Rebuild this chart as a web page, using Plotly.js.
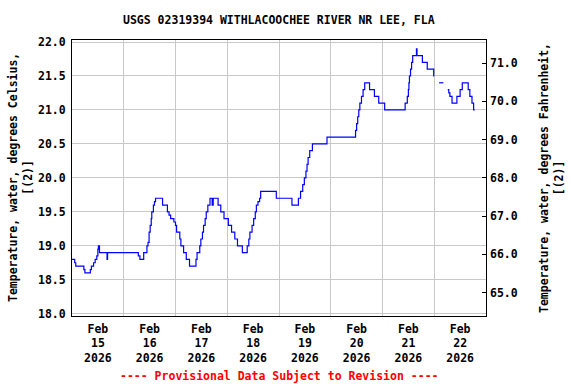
<!DOCTYPE html>
<html><head><meta charset="utf-8">
<script src="https://cdn.plot.ly/plotly-3.0.1.min.js"></script>
<style>html,body{margin:0;padding:0;background:#fff}</style>
</head><body><div id="chart" style="width:576px;height:384px"></div>
<script>
const times = [
'2026-02-15 00:00','2026-02-15 01:15','2026-02-15 01:45','2026-02-15 05:30','2026-02-15 06:00','2026-02-15 08:30','2026-02-15 09:00','2026-02-15 10:00','2026-02-15 10:45','2026-02-15 11:30','2026-02-15 12:00','2026-02-15 12:15','2026-02-15 12:45','2026-02-15 16:15','2026-02-15 16:30',
'2026-02-16 06:45','2026-02-16 07:30','2026-02-16 09:15','2026-02-16 10:45','2026-02-16 11:15','2026-02-16 11:45','2026-02-16 12:15','2026-02-16 12:45','2026-02-16 13:00','2026-02-16 13:45','2026-02-16 14:15','2026-02-16 14:45','2026-02-16 18:00','2026-02-16 20:15','2026-02-16 21:00','2026-02-16 21:45','2026-02-16 23:15',
'2026-02-17 00:00','2026-02-17 00:30','2026-02-17 02:00','2026-02-17 02:30','2026-02-17 03:45','2026-02-17 05:00','2026-02-17 06:30','2026-02-17 09:30','2026-02-17 10:00','2026-02-17 11:15','2026-02-17 11:45','2026-02-17 12:30','2026-02-17 13:00','2026-02-17 13:45','2026-02-17 14:15','2026-02-17 15:00','2026-02-17 16:00','2026-02-17 17:00','2026-02-17 17:30','2026-02-17 19:45','2026-02-17 21:00','2026-02-17 22:30',
'2026-02-18 00:30','2026-02-18 02:00','2026-02-18 03:30','2026-02-18 04:45','2026-02-18 07:00','2026-02-18 09:15','2026-02-18 10:00','2026-02-18 10:30','2026-02-18 11:30','2026-02-18 12:15','2026-02-18 13:00','2026-02-18 13:30','2026-02-18 14:15','2026-02-18 15:00','2026-02-18 15:30','2026-02-18 22:45',
'2026-02-19 06:00','2026-02-19 09:00','2026-02-19 10:00','2026-02-19 11:00','2026-02-19 11:45','2026-02-19 12:30','2026-02-19 13:00','2026-02-19 13:30','2026-02-19 14:15','2026-02-19 15:30','2026-02-19 22:15',
'2026-02-20 11:30','2026-02-20 12:00','2026-02-20 12:30','2026-02-20 13:00','2026-02-20 13:30','2026-02-20 14:15','2026-02-20 15:00','2026-02-20 15:45','2026-02-20 18:00','2026-02-20 20:15','2026-02-20 22:15',
'2026-02-21 01:00','2026-02-21 10:30','2026-02-21 11:30','2026-02-21 12:00','2026-02-21 12:15','2026-02-21 12:30','2026-02-21 13:00','2026-02-21 13:30','2026-02-21 14:00','2026-02-21 15:45','2026-02-21 16:00','2026-02-21 18:30','2026-02-21 20:45','2026-02-21 23:45',
'2026-02-22 00:00','2026-02-22 01:00','2026-02-22 02:15','2026-02-22 04:15','2026-02-22 05:00','2026-02-22 06:15','2026-02-22 06:45','2026-02-22 07:15','2026-02-22 08:15','2026-02-22 10:30','2026-02-22 12:00','2026-02-22 13:00','2026-02-22 15:45','2026-02-22 16:30','2026-02-22 17:30','2026-02-22 18:15','2026-02-22 18:45'
];
const tempC = [
18.8,18.75,18.7,18.65,18.6,18.65,18.7,18.75,18.8,18.85,18.95,19.0,18.9,18.8,18.9,
18.85,18.8,18.9,19.0,19.05,19.2,19.3,19.4,19.5,19.6,19.65,19.7,19.6,19.5,19.45,19.4,19.35,
19.3,19.2,19.1,19.0,18.9,18.8,18.7,18.8,18.9,19.0,19.1,19.2,19.3,19.4,19.5,19.6,19.7,19.6,19.7,19.6,19.5,19.4,
19.3,19.2,19.1,19.0,18.9,19.0,19.1,19.2,19.3,19.4,19.5,19.6,19.65,19.7,19.8,19.7,
19.6,19.7,19.8,19.9,20.0,20.1,20.2,20.3,20.4,20.5,20.6,
20.7,20.8,20.9,21.0,21.1,21.2,21.3,21.4,21.3,21.2,21.1,
21.0,21.1,21.2,21.3,21.4,21.5,21.6,21.7,21.8,21.9,21.8,21.7,21.6,21.5,
21.5,null,21.4,21.4,null,21.3,21.25,21.2,21.1,21.2,21.3,21.4,21.3,21.2,21.1,21.0,21.0
];
const celsiusRange = [17.966, 22.03];
const fahrenheitRange = [64.39, 71.605];
const fahrenheitTicks = [65, 66, 67, 68, 69, 70, 71];
const dayGrid = ['2026-02-15','2026-02-16','2026-02-17','2026-02-18','2026-02-19','2026-02-20','2026-02-21','2026-02-22','2026-02-23'];
const dayTickTimes = ['2026-02-15 12:00','2026-02-16 12:00','2026-02-17 12:00','2026-02-18 12:00','2026-02-19 12:00','2026-02-20 12:00','2026-02-21 12:00','2026-02-22 12:00'];
const dayTickLabels = ['Feb<br>15<br>2026','Feb<br>16<br>2026','Feb<br>17<br>2026','Feb<br>18<br>2026','Feb<br>19<br>2026','Feb<br>20<br>2026','Feb<br>21<br>2026','Feb<br>22<br>2026'];
const titleText = 'USGS 02319394 WITHLACOOCHEE RIVER NR LEE, FLA';
const leftTitle = 'Temperature, water, degrees Celsius,<br>[(2)]';
const rightTitle = 'Temperature, water, degrees Fahrenheit,<br>[(2)]';
const footerText = '---- Provisional Data Subject to Revision ----';

const F = {family: 'DejaVu Sans Mono', size: 11.5, color: '#000', weight: 'bold'};
const xRange = [dayGrid[0], dayGrid[dayGrid.length - 1]];

const traces = [
  {x: times, y: tempC, type: 'scatter', mode: 'lines', line: {shape: 'hv', color: '#0000ff', width: 1.2}, connectgaps: false, xaxis: 'x', yaxis: 'y', hoverinfo: 'skip'},
  {x: [dayTickTimes[0]], y: [fahrenheitTicks[0]], type: 'scatter', mode: 'markers', marker: {opacity: 0}, xaxis: 'x2', yaxis: 'y2', hoverinfo: 'skip'}
];

const layout = {
  width: 576, height: 384,
  margin: {l: 72, r: 90, t: 40, b: 68, pad: 0},
  paper_bgcolor: '#fff', plot_bgcolor: '#fff',
  showlegend: false,
  font: F,
  xaxis: {type: 'date', range: xRange, tickmode: 'array', tickvals: dayGrid, showticklabels: false, ticks: '',
          showgrid: true, gridcolor: '#c8c8c8', gridwidth: 1, zeroline: false,
          showline: true, linecolor: '#000', linewidth: 1, mirror: true},
  xaxis2: {type: 'date', range: xRange, overlaying: 'x', anchor: 'y', side: 'bottom', tickmode: 'array',
           tickvals: dayTickTimes, ticktext: dayTickLabels, ticks: '', showgrid: false, zeroline: false,
           tickfont: F, showline: false, ticklabelstandoff: 4},
  yaxis: {range: celsiusRange, tickmode: 'linear', tick0: 18, dtick: 0.5, tickformat: '.1f', ticks: '',
          showgrid: true, gridcolor: '#c8c8c8', gridwidth: 1, zeroline: false, tickfont: F,
          showline: true, linecolor: '#000', linewidth: 1, mirror: true, ticklabelstandoff: 3},
  yaxis2: {range: fahrenheitRange, overlaying: 'y', side: 'right', anchor: 'x', tickmode: 'array',
           tickvals: fahrenheitTicks, tickformat: '.1f', ticks: 'inside', ticklen: 4, tickcolor: '#000',
           showgrid: false, zeroline: false, tickfont: F, showline: false, ticklabelstandoff: 3},
  annotations: [
    {text: titleText, xref: 'paper', yref: 'paper', x: 0.5, y: 1 + 20.5/276, xanchor: 'center', yanchor: 'middle', showarrow: false, font: F},
    {text: footerText, xref: 'paper', yref: 'paper', x: 0.5, y: -60/276, xanchor: 'center', yanchor: 'middle', showarrow: false, font: Object.assign({}, F, {color: '#ff0000'})},
    {text: leftTitle, xref: 'paper', yref: 'paper', x: (20-72)/414, y: 0.5, xanchor: 'center', yanchor: 'middle', textangle: -90, showarrow: false, font: F},
    {text: rightTitle, xref: 'paper', yref: 'paper', x: (551-72)/414, y: 0.5, xanchor: 'center', yanchor: 'middle', textangle: -90, showarrow: false, font: F}
  ]
};

Plotly.newPlot('chart', traces, layout, {staticPlot: true, displayModeBar: false});
</script>
</body></html>
